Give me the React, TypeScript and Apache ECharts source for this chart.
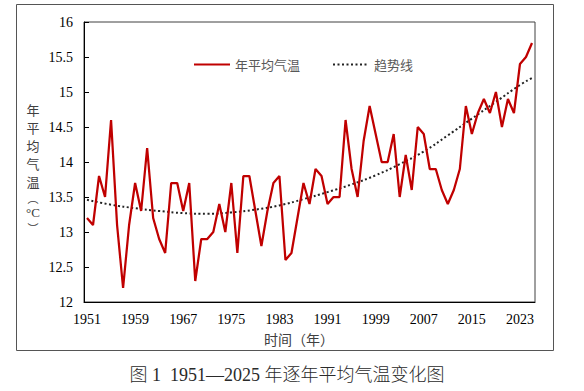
import React, { useEffect, useRef } from "react";
import * as echarts from "echarts";

const years: string[] = [];
for (let y = 1951; y <= 2025; y++) years.push(String(y));

const annualTemp = [
  13.2, 13.1, 13.8, 13.5, 14.6, 13.1, 12.2, 13.1, 13.7, 13.3,
  14.2, 13.2, 12.9, 12.7, 13.7, 13.7, 13.3, 13.7, 12.3, 12.9,
  12.9, 13.0, 13.4, 13.0, 13.7, 12.7, 13.8, 13.8, 13.3, 12.8,
  13.3, 13.7, 13.8, 12.6, 12.7, 13.2, 13.7, 13.4, 13.9, 13.8,
  13.4, 13.5, 13.5, 14.6, 13.9, 13.5, 14.3, 14.8, 14.4, 14.0,
  14.0, 14.4, 13.5, 14.1, 13.6, 14.5, 14.4, 13.9, 13.9, 13.6,
  13.4, 13.6, 13.9, 14.8, 14.4, 14.7, 14.9, 14.7, 15.0, 14.5,
  14.9, 14.7, 15.4, 15.5, 15.7,
];

const trendYears = [1951, 1955, 1959, 1963, 1967, 1971, 1975, 1979, 1983, 1987, 1991, 1995, 1999, 2003, 2007, 2011, 2015, 2019, 2023, 2025];
const trendValues = [13.46, 13.39, 13.34, 13.30, 13.27, 13.26, 13.28, 13.32, 13.38, 13.47, 13.57, 13.68, 13.81, 13.97, 14.15, 14.38, 14.62, 14.86, 15.10, 15.20];

const yAxisTitleChars = ["年", "平", "均", "气", "温"];

const SERIF = "'Liberation Serif', 'Noto Sans CJK SC', serif";
const CJK = "'Noto Sans CJK SC', sans-serif";

export default function App() {
  const ref = useRef<HTMLDivElement>(null);
  useEffect(() => {
    if (!ref.current) return;
    const chart = echarts.init(ref.current, undefined, { renderer: "svg" });
    const trendData: (number | null)[] = years.map(() => null);
    trendYears.forEach((y, i) => {
      trendData[y - 1951] = trendValues[i];
    });
    const yTitleText =
      yAxisTitleChars.map((c) => `{a|${c}}`).join("\n") + "\n{p|︵}\n{c|°C}\n{p|︶}";
    chart.setOption({
      animation: false,
      backgroundColor: "#ffffff",
      grid: {
        left: 84,
        top: 22,
        right: 49,
        bottom: 89,
        show: true,
        borderColor: "#404040",
        borderWidth: 1,
        containLabel: false,
      },
      legend: {
        left: 188,
        top: 53,
        itemWidth: 36,
        itemHeight: 14,
        itemGap: 32,
        itemStyle: { opacity: 0 },
        textStyle: { color: "#595959", fontSize: 13, fontFamily: CJK },
        data: ["年平均气温", "趋势线"],
      },
      xAxis: {
        type: "category",
        data: years,
        boundaryGap: true,
        axisLine: { lineStyle: { color: "#000", width: 1 } },
        axisTick: { inside: true, length: 5, interval: 3, lineStyle: { color: "#000" } },
        axisLabel: { interval: 7, margin: 10, color: "#000", fontSize: 14, fontFamily: SERIF },
        splitLine: { show: false },
      },
      yAxis: {
        type: "value",
        min: 12,
        max: 16,
        interval: 0.5,
        axisLine: { show: true, lineStyle: { color: "#000", width: 1 } },
        axisTick: { show: true, inside: true, length: 5, lineStyle: { color: "#000" } },
        axisLabel: { margin: 11, color: "#000", fontSize: 14, fontFamily: SERIF },
        splitLine: { show: false },
      },
      series: [
        {
          name: "年平均气温",
          type: "line",
          data: annualTemp,
          symbol: "none",
          lineStyle: { color: "#C00000", width: 2.25 },
          itemStyle: { color: "#C00000" },
          z: 3,
        },
        {
          name: "趋势线",
          type: "line",
          data: trendData,
          connectNulls: true,
          smooth: 0.5,
          symbol: "none",
          lineStyle: { color: "#222", width: 2, type: [2, 2.5] },
          itemStyle: { color: "#222" },
          z: 2,
        },
      ],
      graphic: [
        {
          type: "rect",
          shape: { x: 16.5, y: 4.5, width: 537, height: 346 },
          style: { fill: "none", stroke: "#555", lineWidth: 1 },
          silent: true,
        },
        {
          type: "text",
          x: 33,
          y: 100,
          style: {
            text: yTitleText,
            align: "center",
            verticalAlign: "top",
            fill: "#404040",
            rich: {
              a: { fontSize: 13, fontFamily: CJK, lineHeight: 18, align: "center", fill: "#404040" },
              p: { fontSize: 11, fontFamily: CJK, lineHeight: 15, align: "center", fill: "#404040" },
              c: { fontSize: 13, fontFamily: SERIF, lineHeight: 15, align: "center", fill: "#404040" },
            },
          },
        },
        {
          type: "text",
          x: 299,
          y: 339,
          style: { text: "时间（年）", fill: "#404040", font: `14px ${CJK}`, align: "center", verticalAlign: "middle" },
        },
        {
          type: "text",
          x: 287,
          y: 375,
          style: { text: "图 1  1951—2025 年逐年平均气温变化图", fill: "#2a2a2a", font: `300 18px ${SERIF}`, align: "center", verticalAlign: "middle" },
        },
      ],
    });
    return () => chart.dispose();
  }, []);
  return <div ref={ref} style={{ position: "fixed", left: 0, top: 0, width: 584, height: 391 }} />;
}
